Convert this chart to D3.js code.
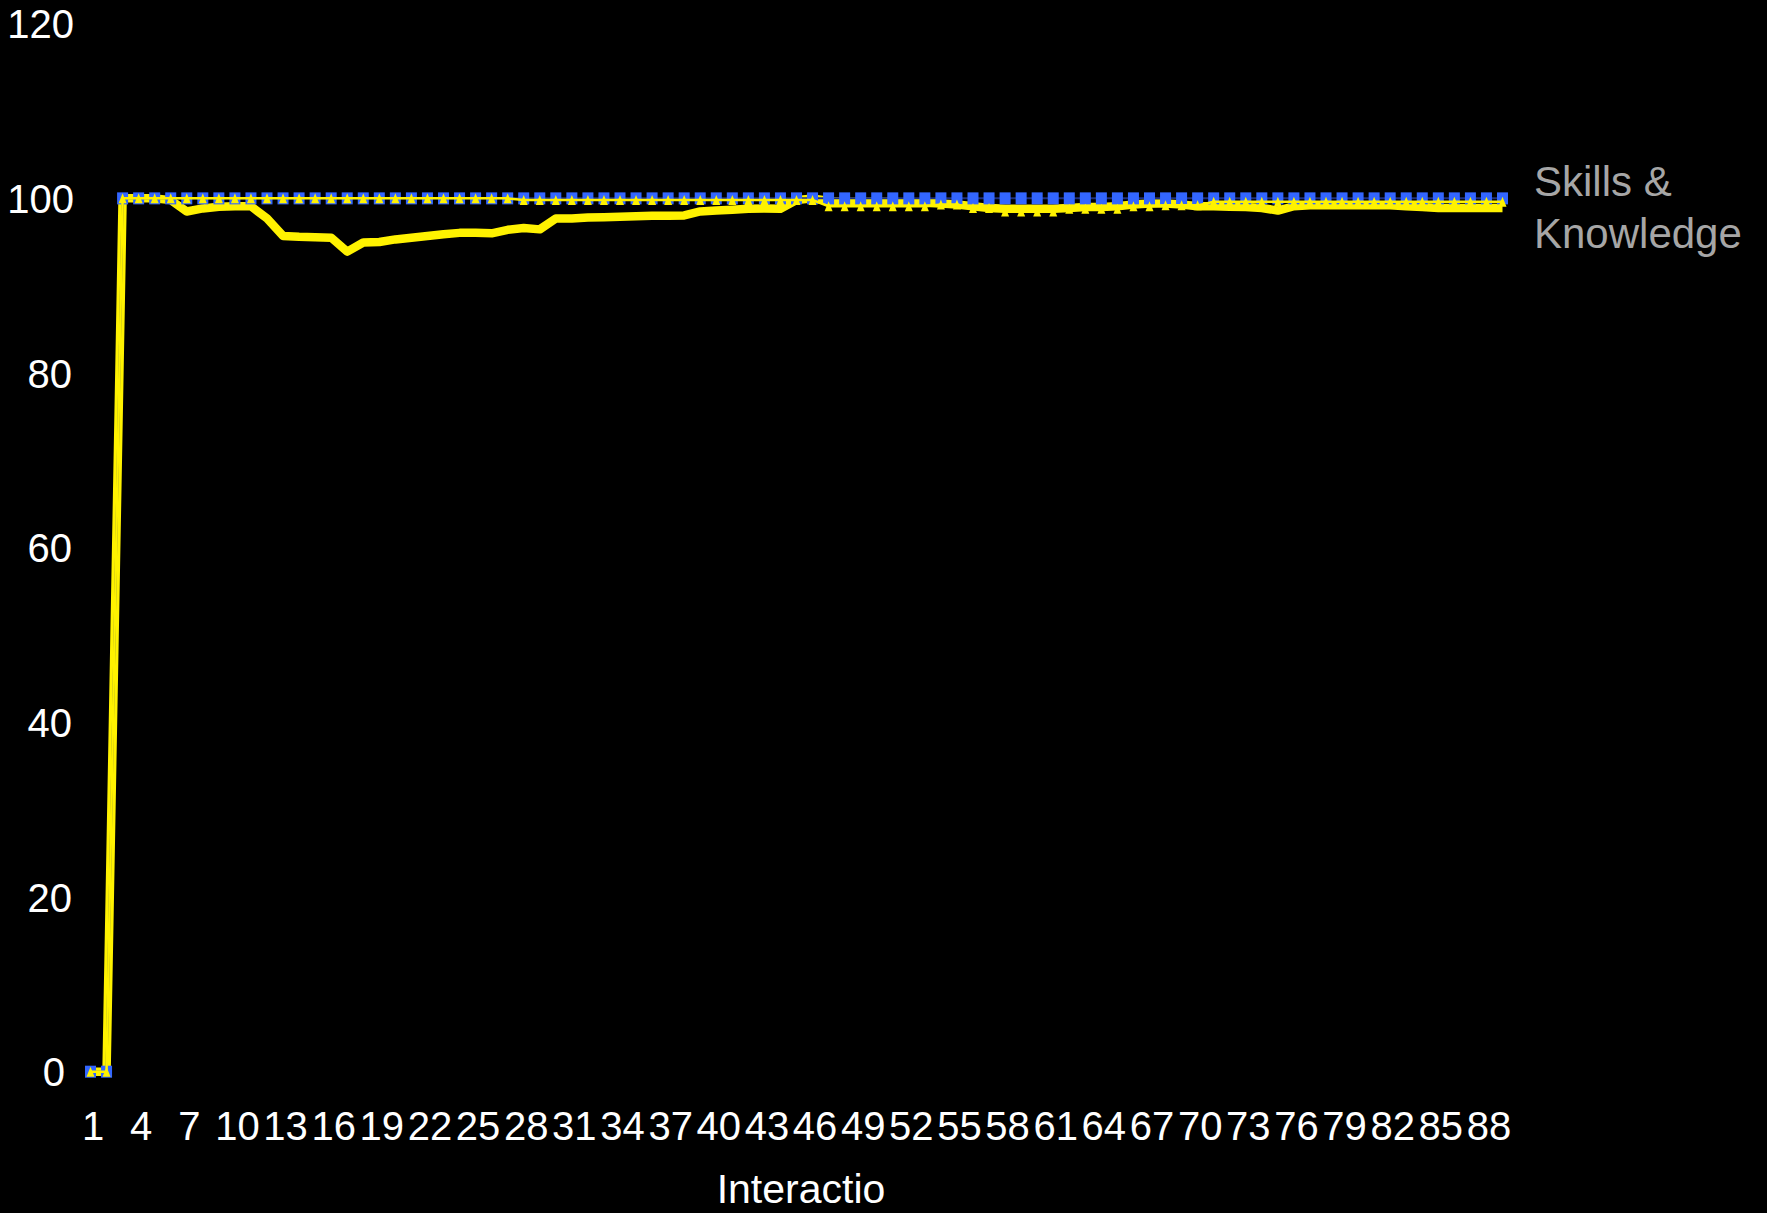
<!DOCTYPE html>
<html><head><meta charset="utf-8">
<script src="https://cdn.jsdelivr.net/npm/d3@7"></script>
<style>html,body{margin:0;padding:0;background:#000;}svg{display:block;}</style>
</head><body>
<svg id="chart" width="1767" height="1213"></svg>
<script>
const categories = [
  1,2,3,4,5,6,7,8,9,10,11,12,13,14,15,16,17,18,19,20,
  21,22,23,24,25,26,27,28,29,30,31,32,33,34,35,36,37,38,39,40,
  41,42,43,44,45,46,47,48,49,50,51,52,53,54,55,56,57,58,59,60,
  61,62,63,64,65,66,67,68,69,70,71,72,73,74,75,76,77,78,79,80,
  81,82,83,84,85,86,87,88,89];
const xTickLabels = [1,4,7,10,13,16,19,22,25,28,31,34,37,40,43,46,49,52,55,58,61,64,67,70,73,76,79,82,85,88];
const yTickLabels = [0,20,40,60,80,100,120];

// thick yellow line (no markers)
const thickValues = [
  0,0,100,100,100,99.8,98.5,98.85,99.05,99.1,
  99.1,97.7,95.7,95.6,95.55,95.5,93.9,94.95,95.0,95.3,
  95.5,95.7,95.9,96.05,96.05,96.0,96.4,96.6,96.45,97.7,
  97.7,97.8,97.85,97.9,97.95,98.0,98.0,98.05,98.5,98.6,
  98.7,98.8,98.85,98.8,99.8,100,99.7,99.6,99.6,99.6,
  99.6,99.5,99.5,99.4,99.3,99.1,98.9,98.8,98.8,98.8,
  98.8,98.9,99.0,99.0,99.1,99.3,99.4,99.4,99.3,99.1,
  99.1,99.05,99.0,98.9,98.6,99.1,99.2,99.2,99.2,99.2,
  99.2,99.2,99.1,99.0,98.9,98.9,98.9,98.9,98.9];

// blue square series
const squareValues = [
  0,0,100,100,100,100,100,100,100,100,
  100,100,100,100,100,100,100,100,100,100,
  100,100,100,100,100,100,100,100,100,100,
  100,100,100,100,100,100,100,100,100,100,
  100,100,100,100,100,100,100,100,100,100,
  100,100,100,100,100,100,100,100,100,100,
  100,100,100,100,100,100,100,100,100,100,
  100,100,100,100,100,100,100,100,100,100,
  100,100,100,100,100,100,100,100,100];

// yellow triangle series
const triangleValues = [
  0,0,100,100,100,100,100,100,100,100,
  100,100,100,100,100,100,100,100,100,100,
  100,100,100,100,100,100,100,99.8,99.8,99.8,
  99.8,99.8,99.8,99.8,99.8,99.8,99.8,99.8,99.8,99.8,
  99.8,99.8,99.8,99.8,99.8,99.8,99.1,99.1,99.1,99.1,
  99.1,99.1,99.1,99.3,99.3,98.9,98.9,98.5,98.5,98.5,
  98.5,98.8,98.8,98.8,98.8,99.1,99.1,99.2,99.2,99.2,
  99.6,99.6,99.6,99.6,99.6,99.6,99.6,99.6,99.6,99.6,
  99.6,99.6,99.6,99.6,99.6,99.6,99.6,99.6,99.6];

const seriesLabel = ["Skills &", "Knowledge"];
const axisTitle = "Interactio";

const YELLOW = "#fff200", BLUE = "#3366ff", NAVY = "#1f2f7a";
const FONT = "'Liberation Sans', Arial, sans-serif";

const svg = d3.select("#chart");
svg.append("rect").attr("width",1767).attr("height",1213).attr("fill","#000");

const x = d3.scalePoint().domain(categories).range([90.5, 1502.5]);
const y = d3.scaleLinear().domain([0,120]).range([1071.7, 23.7]);

// Y axis labels
const yAxis = d3.axisLeft(y).tickValues(yTickLabels).tickSize(0).tickPadding(0).tickFormat(d3.format("d"));
const gy = svg.append("g").attr("transform","translate(74,0)").call(yAxis);
gy.select(".domain").remove();
gy.selectAll("text").attr("fill","#fff").attr("font-size",40).attr("font-family",FONT).attr("dy","0.35em")
  .attr("dx", d => d === 0 ? -9 : (d < 100 ? -2 : 0));

// X axis labels
const xAxis = d3.axisBottom(x).tickValues(xTickLabels).tickSize(0).tickPadding(0);
const gx = svg.append("g").attr("transform","translate(2,1111)").call(xAxis);
gx.select(".domain").remove();
gx.selectAll("text").attr("fill","#fff").attr("font-size",40).attr("font-family",FONT).attr("dy","0.72em");

// axis title
svg.append("text").attr("x",801).attr("y",1203).attr("text-anchor","middle")
  .attr("fill","#fff").attr("font-size",41).attr("font-family",FONT).text(axisTitle);

const line = d3.line().x((d,i)=>x(categories[i])).y(d=>y(d));

// thick line
svg.append("path").datum(thickValues).attr("d",line).attr("fill","none")
  .attr("stroke",YELLOW).attr("stroke-width",8.5).attr("stroke-linejoin","round");

// square series line + markers
svg.append("path").datum(squareValues).attr("d",line).attr("fill","none")
  .attr("stroke",NAVY).attr("stroke-width",2);
svg.append("g").selectAll("rect").data(squareValues).join("rect")
  .attr("x",(d,i)=>x(categories[i])-5.5).attr("y",d=>y(d)-6)
  .attr("width",11).attr("height",12).attr("fill",BLUE);

// triangle series line + markers
svg.append("path").datum(triangleValues).attr("d",line).attr("fill","none")
  .attr("stroke",YELLOW).attr("stroke-width",2.5);
svg.append("g").selectAll("path").data(triangleValues).join("path")
  .attr("transform",(d,i)=>`translate(${x(categories[i])},${y(d)})`)
  .attr("d","M0,-5L4,5L-4,5Z").attr("fill",YELLOW);

// series label
const lbl = svg.append("text").attr("fill","#a6a6a6").attr("font-size",42).attr("font-family",FONT);
lbl.selectAll("tspan").data(seriesLabel).join("tspan")
  .attr("x",1534).attr("y",(d,i)=>196+i*52).text(d=>d);
</script>
</body></html>
